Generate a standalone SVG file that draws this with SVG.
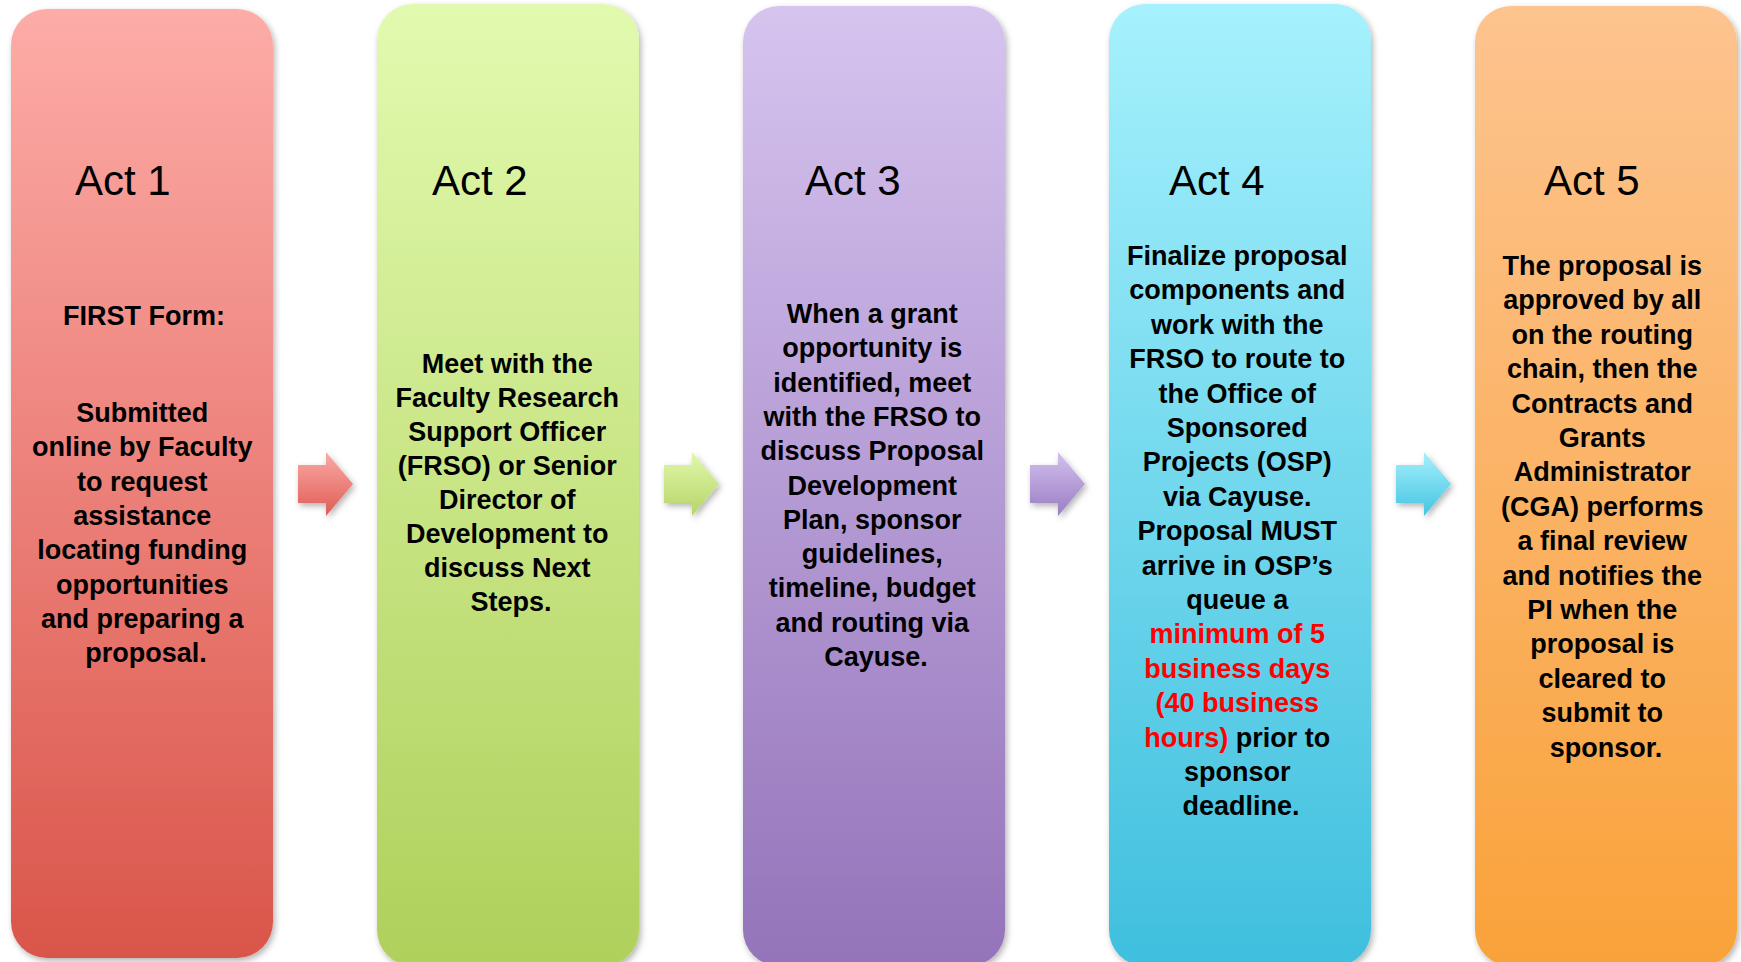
<svg xmlns="http://www.w3.org/2000/svg" width="1741" height="962" viewBox="0 0 1741 962">
  <defs>
    <linearGradient id="g1" x1="0" y1="0" x2="0" y2="1"><stop offset="0" stop-color="#FDACA8"/><stop offset="1" stop-color="#DA554A"/></linearGradient>
    <linearGradient id="g2" x1="0" y1="0" x2="0" y2="1"><stop offset="0" stop-color="#E2FAAF"/><stop offset="1" stop-color="#AFD05B"/></linearGradient>
    <linearGradient id="g3" x1="0" y1="0" x2="0" y2="1"><stop offset="0" stop-color="#D6C4EF"/><stop offset="1" stop-color="#9473BA"/></linearGradient>
    <linearGradient id="g4" x1="0" y1="0" x2="0" y2="1"><stop offset="0" stop-color="#A6F1FD"/><stop offset="1" stop-color="#3FBFDE"/></linearGradient>
    <linearGradient id="g5" x1="0" y1="0" x2="0" y2="1"><stop offset="0" stop-color="#FDC48F"/><stop offset="1" stop-color="#F9A23A"/></linearGradient>
    <linearGradient id="a1" x1="0" y1="0" x2="0" y2="1"><stop offset="0" stop-color="#FBAAA5"/><stop offset="1" stop-color="#DF5C54"/></linearGradient>
    <linearGradient id="a2" x1="0" y1="0" x2="0" y2="1"><stop offset="0" stop-color="#E2F8AC"/><stop offset="1" stop-color="#B5D567"/></linearGradient>
    <linearGradient id="a3" x1="0" y1="0" x2="0" y2="1"><stop offset="0" stop-color="#D3C0EE"/><stop offset="1" stop-color="#9A7DC3"/></linearGradient>
    <linearGradient id="a4" x1="0" y1="0" x2="0" y2="1"><stop offset="0" stop-color="#A6F0FC"/><stop offset="1" stop-color="#45C4E2"/></linearGradient>
    <filter id="shadow" x="-10%" y="-10%" width="125%" height="125%">
      <feDropShadow dx="2" dy="3" stdDeviation="3" flood-color="#000" flood-opacity="0.3"/>
    </filter>
    <path id="arrow" d="M0,12 H28 V-1 L55,31 L28,63 V50 H0 Z"/>
  </defs>
  <style>
    .col { filter: url(#shadow); }
    .act { font-family: "Liberation Sans", Arial, sans-serif; font-size: 42px; fill: #000; }
    .body { font-family: "Liberation Sans", Arial, sans-serif; font-size: 27px; font-weight: bold; fill: #000; text-anchor: middle; }
    .red { fill: #FF0000; }
  </style>

  <rect width="1741" height="962" fill="#FFFFFF"/>

  <g id="act1">
    <rect class="col" x="11" y="9" width="262" height="949" rx="36" fill="url(#g1)"/>
    <text class="act" x="75" y="195">Act 1</text>
    <text class="body" x="144" y="325">FIRST Form:</text>
    <text class="body">
      <tspan x="146" y="422">Submitted</tspan>
      <tspan x="146" y="456.3">online by Faculty</tspan>
      <tspan x="146" y="490.6">to request</tspan>
      <tspan x="146" y="524.9">assistance</tspan>
      <tspan x="146" y="559.2">locating funding</tspan>
      <tspan x="146" y="593.5">opportunities</tspan>
      <tspan x="146" y="627.8">and preparing a</tspan>
      <tspan x="146" y="662.1">proposal.</tspan>
    </text>
  </g>

  <g id="act2">
    <rect class="col" x="377" y="4" width="262" height="962" rx="36" fill="url(#g2)"/>
    <text class="act" x="432" y="195">Act 2</text>
    <text class="body">
      <tspan x="511" y="373">Meet with the</tspan>
      <tspan x="511" y="407">Faculty Research</tspan>
      <tspan x="511" y="441">Support Officer</tspan>
      <tspan x="511" y="475">(FRSO) or Senior</tspan>
      <tspan x="511" y="509">Director of</tspan>
      <tspan x="511" y="543">Development to</tspan>
      <tspan x="511" y="577">discuss Next</tspan>
      <tspan x="511" y="611">Steps.</tspan>
    </text>
  </g>

  <g id="act3">
    <rect class="col" x="743" y="6" width="262" height="960" rx="36" fill="url(#g3)"/>
    <text class="act" x="805" y="195">Act 3</text>
    <text class="body">
      <tspan x="876" y="323">When a grant</tspan>
      <tspan x="876" y="357.3">opportunity is</tspan>
      <tspan x="876" y="391.6">identified, meet</tspan>
      <tspan x="876" y="425.9">with the FRSO to</tspan>
      <tspan x="876" y="460.2">discuss Proposal</tspan>
      <tspan x="876" y="494.5">Development</tspan>
      <tspan x="876" y="528.8">Plan, sponsor</tspan>
      <tspan x="876" y="563.1">guidelines,</tspan>
      <tspan x="876" y="597.4">timeline, budget</tspan>
      <tspan x="876" y="631.7">and routing via</tspan>
      <tspan x="876" y="666">Cayuse.</tspan>
    </text>
  </g>

  <g id="act4">
    <rect class="col" x="1109" y="4" width="262" height="962" rx="36" fill="url(#g4)"/>
    <text class="act" x="1169" y="195">Act 4</text>
    <text class="body">
      <tspan x="1241" y="265">Finalize proposal</tspan>
      <tspan x="1241" y="299.4">components and</tspan>
      <tspan x="1241" y="333.8">work with the</tspan>
      <tspan x="1241" y="368.2">FRSO to route to</tspan>
      <tspan x="1241" y="402.6">the Office of</tspan>
      <tspan x="1241" y="437">Sponsored</tspan>
      <tspan x="1241" y="471.4">Projects (OSP)</tspan>
      <tspan x="1241" y="505.8">via Cayuse.</tspan>
      <tspan x="1241" y="540.2">Proposal MUST</tspan>
      <tspan x="1241" y="574.6">arrive in OSP’s</tspan>
      <tspan x="1241" y="609">queue a</tspan>
      <tspan x="1241" y="643.4" class="red">minimum of 5</tspan>
      <tspan x="1241" y="677.8" class="red">business days</tspan>
      <tspan x="1241" y="712.2" class="red">(40 business</tspan>
      <tspan x="1241" y="746.6"><tspan class="red">hours)</tspan> prior to</tspan>
      <tspan x="1241" y="781">sponsor</tspan>
      <tspan x="1241" y="815.4">deadline.</tspan>
    </text>
  </g>

  <g id="act5">
    <rect class="col" x="1475" y="6" width="262" height="960" rx="36" fill="url(#g5)"/>
    <text class="act" x="1544" y="195">Act 5</text>
    <text class="body">
      <tspan x="1606" y="275">The proposal is</tspan>
      <tspan x="1606" y="309.4">approved by all</tspan>
      <tspan x="1606" y="343.8">on the routing</tspan>
      <tspan x="1606" y="378.2">chain, then the</tspan>
      <tspan x="1606" y="412.6">Contracts and</tspan>
      <tspan x="1606" y="447">Grants</tspan>
      <tspan x="1606" y="481.4">Administrator</tspan>
      <tspan x="1606" y="515.8">(CGA) performs</tspan>
      <tspan x="1606" y="550.2">a final review</tspan>
      <tspan x="1606" y="584.6">and notifies the</tspan>
      <tspan x="1606" y="619">PI when the</tspan>
      <tspan x="1606" y="653.4">proposal is</tspan>
      <tspan x="1606" y="687.8">cleared to</tspan>
      <tspan x="1606" y="722.2">submit to</tspan>
      <tspan x="1606" y="756.6">sponsor.</tspan>
    </text>
  </g>

  <!-- block arrows between the acts -->
  <g id="connectors" filter="url(#shadow)">
    <use href="#arrow" x="298" y="453" fill="url(#a1)"/>
    <use href="#arrow" x="664" y="453" fill="url(#a2)"/>
    <use href="#arrow" x="1030" y="453" fill="url(#a3)"/>
    <use href="#arrow" x="1396" y="453" fill="url(#a4)"/>
  </g>
</svg>
